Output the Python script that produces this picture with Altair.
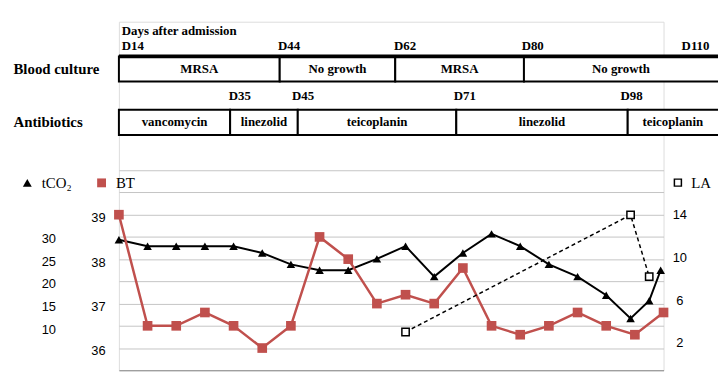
import altair as alt
import pandas as pd

# ---------------- data ----------------
# sample position (index on the shared x axis) and values
bt_pos = list(range(20))
bt_vals = [39.0, 36.5, 36.5, 36.8, 36.5, 36.0, 36.5, 38.5, 38.0, 37.0,
           37.2, 37.0, 37.8, 36.5, 36.3, 36.5, 36.8, 36.5, 36.3, 36.8]
tco2_pos = list(range(18)) + [17.85, 18.5, 18.9]
tco2_vals = [29.7, 28.3, 28.3, 28.3, 28.3, 26.8, 24.3, 23.0, 23.0, 25.5,
             28.3, 21.6, 26.8, 31.0, 28.3, 24.3, 21.6, 17.5, 12.4, 16.3, 23.0]
la_pos = [10, 17.85, 18.5]
la_vals = [3.0, 14.0, 8.2]

tracks = ["Blood culture", "Antibiotics"]
bc_labels = ["MRSA", "No growth", "MRSA", "No growth"]
bc_start = [0, 5.61, 9.64, 14.13]
bc_end = [5.61, 9.64, 14.13, 21.5]
ab_labels = ["vancomycin", "linezolid", "teicoplanin", "linezolid", "teicoplanin"]
ab_start = [0, 3.88, 6.24, 11.77, 17.75]
ab_end = [3.88, 6.24, 11.77, 17.75, 21.5]
top_days = ["D14", "D44", "D62", "D80", "D110"]
top_day_pos = [0.1, 5.55, 9.6, 14.05, 19.63]
bottom_days = ["D35", "D45", "D71", "D98"]
bottom_day_pos = [3.83, 6.04, 11.68, 17.5]
timeline_title = ["Days after admission"]

series_names = ["tCO\u2082", "BT"]
la_name = ["LA"]

# ---------------- tables ----------------
df_bt = pd.DataFrame({"pos": bt_pos, "val": bt_vals, "series": series_names[1]})
df_tc = pd.DataFrame({"pos": tco2_pos, "val": tco2_vals, "series": series_names[0]})
df_la = pd.DataFrame({"pos": la_pos, "val": la_vals, "la_series": la_name[0]})

seg = pd.concat([
    pd.DataFrame({"track": tracks[0], "label": bc_labels, "start": bc_start, "end": bc_end}),
    pd.DataFrame({"track": tracks[1], "label": ab_labels, "start": ab_start, "end": ab_end}),
], ignore_index=True)
seg["mid"] = (seg["start"] + seg["end"].clip(upper=20.9)) / 2
thick = pd.DataFrame({"track": [tracks[0]], "start": [bc_start[0]], "end": [bc_end[-1]]})
top_lab = pd.DataFrame({"track": tracks[0], "day": top_days, "pos": top_day_pos})
bot_lab = pd.DataFrame({"track": tracks[1], "day": bottom_days, "pos": bottom_day_pos})
title_df = pd.DataFrame({"track": [tracks[0]], "day": timeline_title, "pos": [top_day_pos[0]]})

# ---------------- styling ----------------
SERIF = "Liberation Serif"
SANS = "Liberation Sans"
RED = "#c0504d"

x_scale = alt.Scale(domain=[0, 19], nice=False, zero=False)


def X(field):
    return alt.X(field, type="quantitative", scale=x_scale, axis=None)


track_scale = alt.Scale(domain=tracks, range=[35, 114.3], paddingInner=0.53, paddingOuter=0)
track_axis = alt.Axis(orient="left", title=None, domain=False, ticks=False, tickSize=0,
                      grid=False, labelAlign="left", labelPadding=107,
                      labelFont=SERIF, labelFontWeight="bold", labelFontSize=15,
                      labelColor="black")


def TY(band=None):
    if band is None:
        return alt.Y("track:N", scale=track_scale, axis=track_axis)
    return alt.Y("track:N", scale=track_scale, axis=track_axis, bandPosition=band)


txt = dict(font=SERIF, fontWeight="bold", fontSize=13, color="black")

rects = alt.Chart(seg).mark_rect(fill="white", stroke="black", strokeWidth=2).encode(
    x=X("start"), x2="end", y=TY())
thick_rule = alt.Chart(thick).mark_rule(color="black", strokeWidth=4).encode(
    x=X("start"), x2="end", y=TY(0))
seg_text = alt.Chart(seg).mark_text(baseline="middle", **txt).encode(
    x=X("mid"), y=TY(), text="label:N")
top_text = alt.Chart(top_lab).mark_text(align="left", baseline="alphabetic", dy=-6, **txt).encode(
    x=X("pos"), y=TY(0), text="day:N")
bot_text = alt.Chart(bot_lab).mark_text(align="left", baseline="alphabetic", dy=-10, **txt).encode(
    x=X("pos"), y=TY(0), text="day:N")
title_text = alt.Chart(title_df).mark_text(align="left", baseline="alphabetic", dy=-22, **txt).encode(
    x=X("pos"), y=TY(0), text="day:N")

timeline = alt.layer(rects, thick_rule, seg_text, top_text, bot_text, title_text)

# legends
legend_main = alt.Legend(title=None, orient="none", legendX=-100, legendY=155,
                         direction="horizontal", labelFont=SERIF, labelFontSize=15,
                         labelColor="black", symbolSize=80, columnPadding=22,
                         labelOffset=7)
color_scale = alt.Scale(domain=series_names, range=["black", RED])
shape_scale = alt.Scale(domain=series_names, range=["triangle-up", "square"])

# BT  (its grid draws the horizontal rules; the bottom one is darker like an axis line)
bt_y = alt.Y("val:Q", scale=alt.Scale(domain=[35.5, 40], range=[352, 150], nice=False, zero=False),
             axis=alt.Axis(orient="left", title=None, values=[35.5 + 0.5 * i for i in range(10)],
                           labelExpr="(datum.value % 1 == 0 && datum.value < 40) ? datum.value : ''",
                           grid=True,
                           gridColor=alt.condition("datum.value == 35.5",
                                                   alt.value("#868686"), alt.value("#c4c4c4")),
                           gridWidth=1,
                           domain=False, ticks=False, tickSize=0, labelPadding=14,
                           labelOffset=3, labelFont=SANS, labelFontSize=13, labelColor="black"))
bt_base = alt.Chart(df_bt).encode(x=X("pos"), y=bt_y)
bt = alt.layer(
    bt_base.mark_line(color=RED, strokeWidth=2.5),
    bt_base.mark_point(filled=True, size=95, opacity=1).encode(
        color=alt.Color("series:N", scale=color_scale, legend=legend_main),
        shape=alt.Shape("series:N", scale=shape_scale, legend=legend_main)),
)

# tCO2
tc_y = alt.Y("val:Q", scale=alt.Scale(domain=[1, 45], range=[352, 150], nice=False, zero=False),
             axis=alt.Axis(orient="left", offset=60, title=None, values=[10, 15, 20, 25, 30],
                           grid=False, domain=False, ticks=False, tickSize=0, labelPadding=4,
                           labelFont=SANS, labelFontSize=13, labelColor="black"))
tc_base = alt.Chart(df_tc).encode(x=X("pos"), y=tc_y)
tc = alt.layer(
    tc_base.mark_line(color="black", strokeWidth=2),
    tc_base.mark_point(filled=True, size=75, opacity=1).encode(
        color=alt.Color("series:N", scale=color_scale, legend=legend_main),
        shape=alt.Shape("series:N", scale=shape_scale, legend=legend_main)),
)

# LA
la_y = alt.Y("val:Q", scale=alt.Scale(domain=[-0.6, 18.2], range=[352, 150], nice=False, zero=False),
             axis=alt.Axis(orient="right", title=None, values=[2, 6, 10, 14],
                           grid=False, domain=False, ticks=False, tickSize=0, labelPadding=16,
                           labelAlign="center", labelFont=SANS, labelFontSize=13,
                           labelColor="black"))
la_base = alt.Chart(df_la).encode(x=X("pos"), y=la_y)
la = alt.layer(
    la_base.mark_line(color="black", strokeWidth=1.5, strokeDash=[4, 3]),
    la_base.mark_point(shape="square", size=55, stroke="black", strokeWidth=1.5,
                       opacity=1, fillOpacity=1).encode(
        fill=alt.Fill("la_series:N", scale=alt.Scale(domain=la_name, range=["white"]),
                      legend=alt.Legend(title=None, orient="none", legendX=557, legendY=155,
                                        symbolType="square", symbolStrokeColor="black",
                                        symbolStrokeWidth=1.5, symbolSize=50,
                                        labelFont=SERIF, labelFontSize=15, labelColor="black",
                                        labelOffset=6))),
)

chart = alt.layer(timeline, tc, bt, la).resolve_scale(y="independent").properties(
    width=550, height=352,
    padding={"left": 112, "top": 12, "right": 55, "bottom": 10},
    autosize=alt.AutoSizeParams(type="none"),
).configure_view(stroke="transparent", strokeWidth=0).configure_axis(
    domain=False, ticks=False
).configure(background="white")

chart.save("out.html", embed_options={"renderer": "svg", "actions": False})
